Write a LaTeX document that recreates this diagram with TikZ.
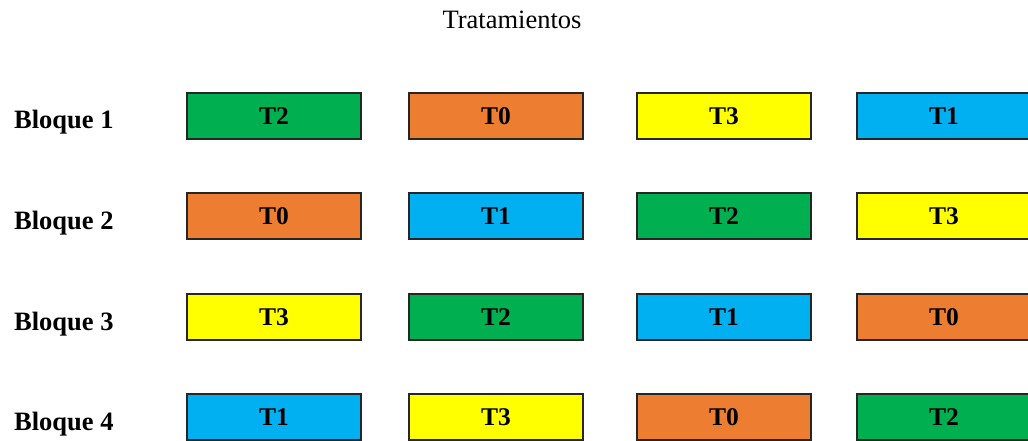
\documentclass[tikz,border=0pt]{standalone}
\usepackage{fontspec}
\setmainfont{Liberation Serif}
\definecolor{cgreen}{HTML}{00B050}
\definecolor{corange}{HTML}{ED7D31}
\definecolor{cyellow}{HTML}{FFFF00}
\definecolor{cblue}{HTML}{00B0F0}
\definecolor{cborder}{HTML}{262626}
\begin{document}
\begin{tikzpicture}[x=1pt,y=-1pt,
  tbox/.style={draw=cborder,line width=1.3pt,minimum width=174pt,minimum height=46pt,inner sep=0pt,font=\fontsize{25.5}{27}\selectfont\bfseries},
  blabel/.style={anchor=base west,inner sep=0pt,font=\fontsize{26.5}{28}\selectfont\bfseries},
  title/.style={anchor=base,inner sep=0pt,font=\fontsize{26.5}{28}\selectfont}]
\useasboundingbox (0,0) rectangle (1028,441);
\clip (0,0) rectangle (1028,441);
\node[title] (tit) at (512,29) {Tratamientos};
% labels
\node[blabel] (l1) at (14,129) {Bloque 1};
\node[blabel] (l2) at (14,229) {Bloque 2};
\node[blabel] (l3) at (14,330) {Bloque 3};
\node[blabel] (l4) at (14,430) {Bloque 4};
% row 1
\node[tbox,fill=cgreen]  (b11) at (274,116) {T2};
\node[tbox,fill=corange] (b12) at (496,116) {T0};
\node[tbox,fill=cyellow] (b13) at (724,116) {T3};
\node[tbox,fill=cblue]   (b14) at (944,116) {T1};
% row 2
\node[tbox,fill=corange] (b21) at (274,216) {T0};
\node[tbox,fill=cblue]   (b22) at (496,216) {T1};
\node[tbox,fill=cgreen]  (b23) at (724,216) {T2};
\node[tbox,fill=cyellow] (b24) at (944,216) {T3};
% row 3
\node[tbox,fill=cyellow] (b31) at (274,317) {T3};
\node[tbox,fill=cgreen]  (b32) at (496,317) {T2};
\node[tbox,fill=cblue]   (b33) at (724,317) {T1};
\node[tbox,fill=corange] (b34) at (944,317) {T0};
% row 4
\node[tbox,fill=cblue]   (b41) at (274,417) {T1};
\node[tbox,fill=cyellow] (b42) at (496,417) {T3};
\node[tbox,fill=corange] (b43) at (724,417) {T0};
\node[tbox,fill=cgreen]  (b44) at (944,417) {T2};
\end{tikzpicture}
\end{document}
